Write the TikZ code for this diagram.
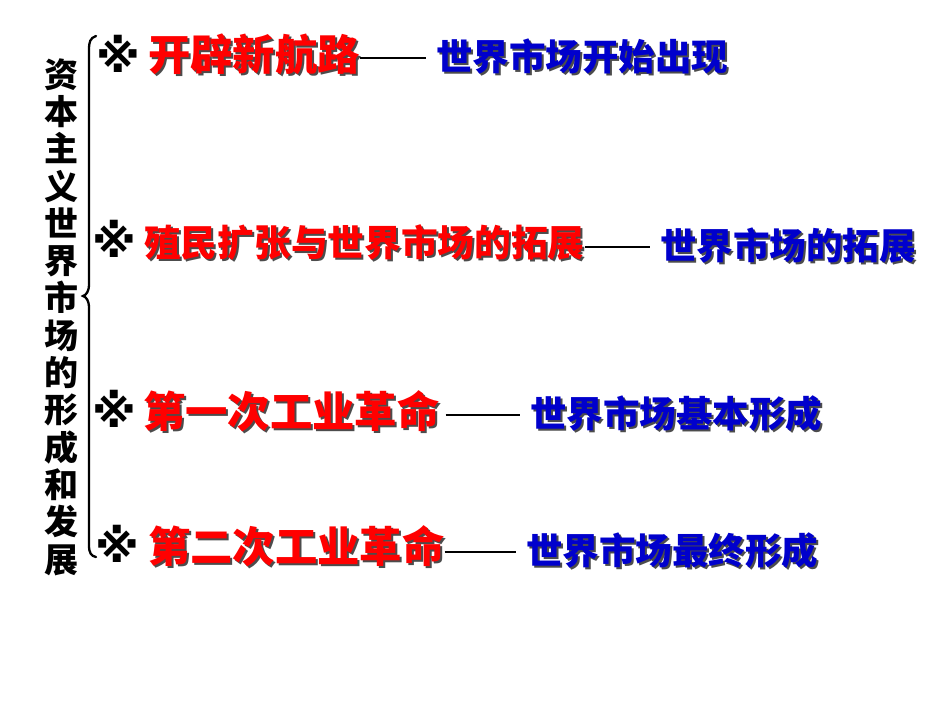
\documentclass[tikz,border=0pt]{standalone}
\usepackage{fontspec}
\newfontfamily\cjk{Noto Sans CJK SC}
\newfontfamily\dvs{DejaVu Sans}
\definecolor{tred}{RGB}{255,0,0}
\definecolor{tblue}{RGB}{0,0,204}
\newcommand{\shtext}[2]{\makebox[0pt][l]{\raisebox{-2pt}{\hspace{2pt}\textcolor{black!70}{#2}}}\textcolor{#1}{#2}}
\tikzset{
  redtxt/.style={anchor=west,inner sep=0pt,font=\cjk\bfseries\fontsize{42.3}{42.3}\selectfont},
  redsmall/.style={anchor=west,inner sep=0pt,font=\cjk\bfseries\fontsize{36.7}{36.7}\selectfont},
  bluetxt/.style={anchor=west,inner sep=0pt,font=\cjk\bfseries\fontsize{36.5}{36.5}\selectfont},
  refmark/.style={inner sep=0pt,font=\dvs\bfseries\fontsize{45}{45}\selectfont},
  dashline/.style={line width=2pt,black},
}
\begin{document}
\begin{tikzpicture}[x=1pt,y=-1pt]
\useasboundingbox (0,0) rectangle (950,713);
\fill[white] (0,0) rectangle (950,713);
% vertical title
\node[inner sep=0pt,align=center,font=\cjk\bfseries\fontsize{34}{37.3}\selectfont] (title) at (61,317)
 {资\\本\\主\\义\\世\\界\\市\\场\\的\\形\\成\\和\\发\\展};
% brace
\draw[line width=2.3pt,line cap=round] (96,36) .. controls (90,38) and (89,42) .. (89,50) -- (89,284)
  .. controls (89,292) and (86,295) .. (83,296) .. controls (86,297) and (89,300) .. (89,308)
  -- (89,545) .. controls (89,553) and (91,556) .. (96,557);
% marks
\node[refmark] (m1) at (118,54) {※};
\node[refmark] (m2) at (114,239) {※};
\node[refmark] (m3) at (114,409) {※};
\node[refmark] (m4) at (117,544) {※};
% red texts
\node[redtxt] (r1) at (148,55) {\shtext{tred}{开辟新航路}};
\node[redsmall] (r2) at (144,243) {\shtext{tred}{殖民扩张与世界市场的拓展}};
\node[redtxt] (r3) at (143,412) {\shtext{tred}{第一次工业革命}};
\node[redtxt] (r4) at (148,547) {\shtext{tred}{第二次工业革命}};
% blue texts
\node[bluetxt] (b1) at (436,58) {\shtext{tblue}{世界市场开始出现}};
\node[bluetxt] (b2) at (660,247) {\shtext{tblue}{世界市场的拓展}};
\node[bluetxt] (b3) at (530,415) {\shtext{tblue}{世界市场基本形成}};
\node[bluetxt] (b4) at (526,552) {\shtext{tblue}{世界市场最终形成}};
% connectors
\coordinate (c1) at (r1.east |- b1.west);
\coordinate (c2) at (r2.east |- b2.west);
\coordinate (c3) at (r3.east |- b3.west);
\coordinate (c4) at (r4.east |- b4.west);
\draw[dashline,shorten >=10pt] (c1) -- (b1.west);
\draw[dashline,shorten >=10pt] (c2) -- (b2.west);
\draw[dashline,shorten >=10pt,shorten <=6pt] (c3) -- (b3.west);
\draw[dashline,shorten >=10pt] (c4) -- (b4.west);
\end{tikzpicture}
\end{document}
